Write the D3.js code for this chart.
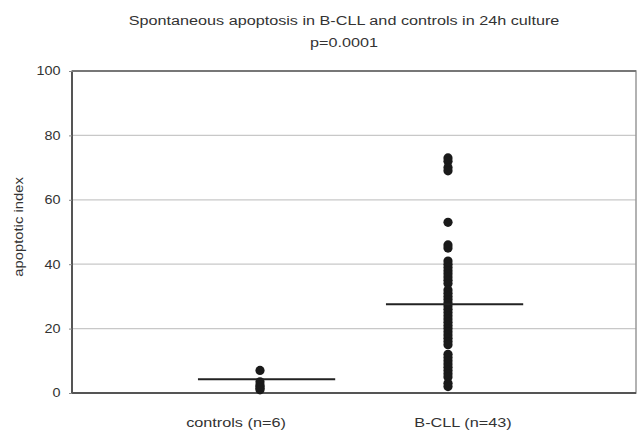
<!DOCTYPE html>
<html>
<head>
<meta charset="utf-8">
<script src="https://cdn.jsdelivr.net/npm/d3@7"></script>
<style>
  body { margin: 0; background: #fff; }
  text { font-family: "Liberation Sans", Arial, sans-serif; fill: #333; }
</style>
</head>
<body>
<div id="chart"></div>
<script>
// data
const groups = ["controls (n=6)", "B-CLL (n=43)"];
const controls = [7, 3.5, 2.5, 2, 1.5, 1];
const bcll = [73, 72, 70, 69, 53, 46, 45, 41, 40, 39, 38, 37, 36, 35, 34,
              32, 31, 30, 29, 28, 27, 26, 25, 24, 23, 22, 21, 20, 19, 18, 17, 16, 15,
              12, 11, 10, 9, 8, 7, 6, 5, 3, 2];
const medians = [4.3, 27.6];
const yTicks = [0, 20, 40, 60, 80, 100];

let margin = {top: 71, right: 1, bottom: 38, left: 72},
    width = 637 - margin.left - margin.right,
    height = 431 - margin.top - margin.bottom;

let svg = d3.select("#chart")
  .append("svg")
    .attr("width", 637)
    .attr("height", 431);

let g = svg.append("g")
    .attr("transform", "translate(" + margin.left + "," + margin.top + ")");

// x is a position in "group index" space, groups sit at 1 and 2
let x = d3.scaleLinear().domain([0, 3]).range([0, width]);
let y = d3.scaleLinear().domain([0, 100]).range([height, 0]);

// the scanned lettering is stretched along the text direction
function stretched(parent, tx, ty, rot, sx, size, str) {
  return parent.append("text")
    .attr("transform", "translate(" + tx + "," + ty + ") rotate(" + rot + ") scale(" + sx + ",1)")
    .attr("text-anchor", "middle")
    .style("font-size", size + "px")
    .text(str);
}

// grid lines
g.append("g")
  .selectAll("line")
  .data(yTicks.filter(function(d) { return d > 0 && d < 100; }))
  .enter()
  .append("line")
    .attr("x1", 0).attr("x2", width)
    .attr("y1", function(d) { return y(d); })
    .attr("y2", function(d) { return y(d); })
    .attr("stroke", "#c8c8c8")
    .attr("stroke-width", 1.2);

// frame
g.append("rect")
  .attr("width", width).attr("height", height)
  .attr("fill", "none")
  .attr("stroke", "#999")
  .attr("stroke-width", 1.5);
g.append("line").attr("x1", 0).attr("x2", 0).attr("y1", 0).attr("y2", height)
  .attr("stroke", "#555").attr("stroke-width", 2);
g.append("line").attr("x1", 0).attr("x2", width).attr("y1", height).attr("y2", height)
  .attr("stroke", "#555").attr("stroke-width", 2);
g.append("line").attr("x1", 0).attr("x2", width).attr("y1", 0).attr("y2", 0)
  .attr("stroke", "#777").attr("stroke-width", 2);

// y axis
let yAxis = g.append("g")
  .call(d3.axisLeft(y).tickValues(yTicks).tickSize(3).tickPadding(8));
yAxis.select(".domain").remove();
yAxis.selectAll("line").attr("stroke", "#888");
yAxis.selectAll("text")
  .style("font-size", "12px")
  .attr("fill", "#333")
  .style("font-family", "'Liberation Sans', Arial, sans-serif")
  .attr("transform", function() { return "scale(1.2,1)"; })
  .attr("x", -9.5);

// points
let series = [controls, bcll];
series.forEach(function(vals, i) {
  g.append("g")
    .selectAll("circle")
    .data(vals)
    .enter()
    .append("circle")
      .attr("cx", x(i + 1))
      .attr("cy", function(d) { return y(d); })
      .attr("r", 4.6)
      .attr("fill", "#1a1a1a");
});

// median lines
g.append("g")
  .selectAll("line")
  .data(medians)
  .enter()
  .append("line")
    .attr("x1", function(d, i) { return x(i + 1 - 0.33); })
    .attr("x2", function(d, i) { return x(i + 1 + 0.4); })
    .attr("y1", function(d) { return y(d); })
    .attr("y2", function(d) { return y(d); })
    .attr("stroke", "#222")
    .attr("stroke-width", 2);

// category labels
groups.forEach(function(d, i) {
  stretched(g, x(i + 1) + (i === 0 ? -24 : 15), height + 34, 0, 1.25, 13, d);
});

// y label
stretched(svg, 23, margin.top + 156, -90, 1.14, 13, "apoptotic index");

// title
stretched(svg, 344, 25, 0, 1.2, 13.5, "Spontaneous apoptosis in B-CLL and controls in 24h culture");
stretched(svg, 344, 47, 0, 1.2, 13.5, "p=0.0001");
</script>
</body>
</html>
